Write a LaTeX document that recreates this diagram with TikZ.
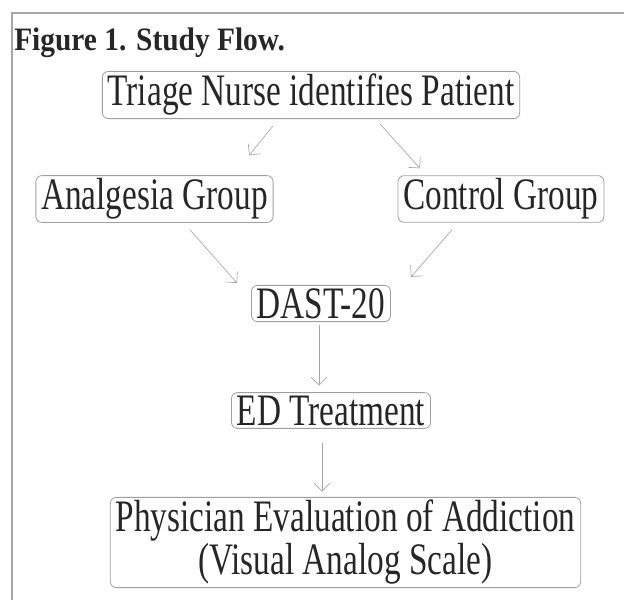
\documentclass[tikz,border=0pt]{standalone}
\usepackage{fontspec}
\setmainfont{Liberation Serif}
\newfontfamily\boxfont[FakeStretch=0.74]{Liberation Serif}
\newfontfamily\titlefont[FakeStretch=0.9]{Liberation Serif}
\usetikzlibrary{arrows.meta,calc}

\begin{document}
\begin{tikzpicture}[x=0.75pt,y=0.75pt,yscale=-1,xscale=1,
    box/.style={draw=gray!75, line width=0.6pt, rounded corners=4.5pt, inner xsep=4pt, inner ysep=2.2pt,
        font=\boxfont\fontsize{33.75pt}{32.25pt}\selectfont, text=black!85},
    flow/.style={draw=gray!70, line width=0.5pt, -{Straight Barb[length=6pt,width=12pt]}}]
            \useasboundingbox (0,0) rectangle (624,600);
            %frame
            \draw [gray!70, line width=1pt] (12,600) -- (12,13) -- (624,13);
            %title
            \node[anchor=base west, inner sep=0, text=black!85,
                font=\titlefont\bfseries\fontsize{24.5pt}{28pt}\selectfont] (title) at (14,50) {Figure 1. Study Flow.};
            %
            %boxes
            \node[box] (triage) at (311,95) {Triage Nurse identifies Patient};
            \node[box] (analgesia) at (154.5,199) {Analgesia Group};
            \node[box] (control) at (501,199) {Control Group};
            \node[box] (dast) at (321,303.5) {DAST-20};
            \node[box] (ed) at (331,410.5) {ED Treatment};
            \node[box, align=center] (physician) at (345.5,542.5) {Physician Evaluation of Addiction\\(Visual Analog Scale)};
            %
            %arrows
            \draw[flow, shorten <=6.8pt, shorten >=19.2pt] ($(triage.south)+(-32.4,0)$) -- ($(analgesia.north)+(78.5,0)$);
            \draw[flow, shorten <=5pt, shorten >=7pt] ($(triage.south)+(64.6,0)$) -- ($(control.north)+(-74.8,0)$);
            \draw[flow, shorten <=7pt, shorten >=2pt] ($(analgesia.south)+(29.3,0)$) -- ($(dast.north)+(-82.2,0)$);
            \draw[flow, shorten <=7pt, shorten >=8pt] ($(control.south)+(-42.9,0)$) -- ($(dast.north)+(83,0)$);
            \draw[flow, shorten <=2pt, shorten >=5pt] ($(dast.south)+(-2,0)$) -- ($(ed.north)+(-12,0)$);
            \draw[flow, shorten <=11pt, shorten >=4pt] ($(ed.south)+(-9,0)$) -- ($(physician.north)+(-23.5,0)$);
\end{tikzpicture}
\end{document}
